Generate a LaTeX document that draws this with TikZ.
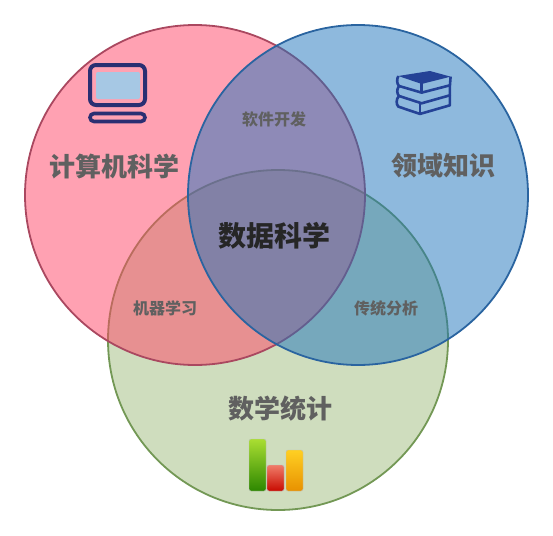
\documentclass[tikz,border=0pt]{standalone}
\usepackage{fontspec}
\setmainfont{Noto Sans CJK SC}
\definecolor{redset}{RGB}{255,68,102}
\definecolor{blueset}{RGB}{30,116,188}
\definecolor{greenset}{RGB}{161,189,127}
\definecolor{rededge}{RGB}{170,72,96}
\definecolor{blueedge}{RGB}{42,100,160}
\definecolor{greenedge}{RGB}{115,152,85}
\definecolor{labelgray}{RGB}{96,96,96}
\definecolor{screenblue}{RGB}{166,200,228}
\definecolor{laptopblue}{RGB}{42,47,114}
\definecolor{bookblue}{RGB}{36,66,150}
\definecolor{bargreentop}{RGB}{170,222,50}
\definecolor{bargreenlow}{RGB}{45,135,0}
\definecolor{barredtop}{RGB}{240,125,105}
\definecolor{barredlow}{RGB}{200,10,0}
\definecolor{barorangetop}{RGB}{255,208,35}
\definecolor{barorangelow}{RGB}{232,145,0}
\begin{document}
\begin{tikzpicture}[x=1pt, y=-1pt,
  setcircle/.style={circle, draw, line width=1.8pt, minimum size=340pt, inner sep=0pt, outer sep=0pt, fill opacity=0.5},
  biglabel/.style={text=labelgray, font=\fontsize{26}{26}\selectfont\bfseries, inner sep=0pt},
  midlabel/.style={text=black!85, font=\fontsize{28}{28}\selectfont\bfseries, inner sep=0pt},
  smalllabel/.style={text=labelgray, font=\fontsize{16}{16}\selectfont\bfseries, inner sep=0pt},
  bar/.style={rounded corners=2pt, draw=black!25, line width=0.4pt},
  bookline/.style={draw=bookblue, line width=2.6pt, line join=round}]
  \useasboundingbox[fill=white] (0,0) rectangle (553,535);

  \node[setcircle, draw=greenedge, fill=greenset] (math) at (278,340) {};
  \node[setcircle, draw=rededge, fill=redset] (cs) at (195,195) {};
  \node[setcircle, draw=blueedge, fill=blueset] (domain) at (358,195) {};

  \node[biglabel] (cslabel) at (114.5,166.5) {计算机科学};
  \node[biglabel] (domainlabel) at (443,166) {领域知识};
  \node[biglabel] (mathlabel) at (280,409) {数学统计};
  \node[midlabel] (dslabel) at (274.5,236) {数据科学};
  \node[smalllabel] (softlabel) at (274,119.5) {软件开发};
  \node[smalllabel] (mllabel) at (165,308.5) {机器学习};
  \node[smalllabel] (analysislabel) at (386,308.5) {传统分析};

  \fill[screenblue, rounded corners=2pt] (96,72) rectangle (140,99);
  \draw[laptopblue, line width=4pt, rounded corners=6pt] (90,65) rectangle (145,105);
  \draw[laptopblue, line width=3.6pt, rounded corners=4pt] (90,113.5) rectangle (145,121.5);

  \begin{scope}[shift={(380,60)}, x=0.333pt, y=-0.333pt]
    \fill[bookblue] (55,48) -- (150,33) -- (212,50) -- (125,72) -- cycle;
    \draw[bookline] (55,48) .. controls (50,58) and (50,70) .. (57,78) -- (125,98) -- (210,76) -- (212,50);
    \draw[bookline] (125,70) -- (125,98);
    \draw[bookline] (57,78) .. controls (50,88) and (50,100) .. (57,108) -- (125,130) -- (210,106) -- (210,76);
    \draw[bookline] (57,108) .. controls (48,118) and (48,132) .. (55,140) -- (120,162) -- (210,136) -- (210,106);
    \draw[bookline] (120,130) -- (120,162);
  \end{scope}

  \shade[bar, top color=bargreentop, bottom color=bargreenlow] (249,439) rectangle (266,491);
  \shade[bar, top color=barredtop, bottom color=barredlow] (267,465) rectangle (284,491);
  \shade[bar, top color=barorangetop, bottom color=barorangelow] (286,450) rectangle (303,491);
\end{tikzpicture}
\end{document}
